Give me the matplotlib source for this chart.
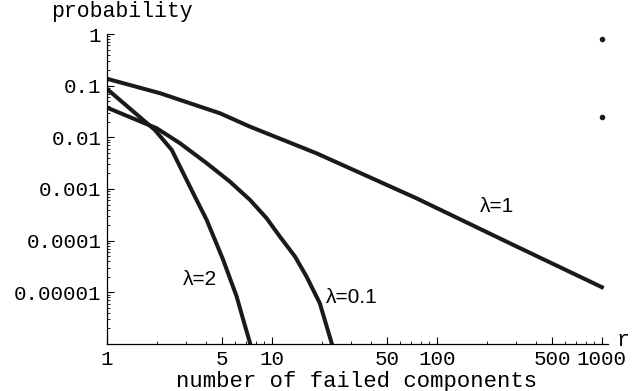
import numpy as np
import matplotlib.pyplot as plt
from matplotlib.ticker import FixedLocator, NullFormatter

# values (log-log)
r_lam1 = [1, 2.1, 4.84, 7.36, 18.6, 75, 290, 1000]
p_lam1 = [0.136, 0.0713, 0.0292, 0.0161, 0.00492, 6.64e-4, 8.3e-5, 1.26e-5]

r_lam2 = [1, 1.95, 2.47, 2.9, 3.41, 4.02, 4.51, 5.06, 5.56, 6.11, 6.7, 7.36, 8]
p_lam2 = [0.0863, 0.0139, 0.0057, 0.00202, 7.13e-4, 2.52e-4, 1.04e-4, 4.26e-5,
          1.88e-5, 8.3e-6, 2.94e-6, 1.05e-6, 3e-7]

r_lam01 = [1, 2.0, 2.77, 4.02, 5.56, 7.36, 9.28, 11.17, 13.8, 16.2, 19.5, 23.0, 25]
p_lam01 = [0.0376, 0.015, 0.00769, 0.00316, 0.00139, 6.15e-4, 2.72e-4, 1.2e-4,
           4.92e-5, 2.02e-5, 6.17e-6, 1.05e-6, 3e-7]

dots_r = [1000, 1000]
dots_p = [0.8, 0.025]

xticks = [1, 5, 10, 50, 100, 500, 1000]
yticks = [1, 0.1, 0.01, 0.001, 0.0001, 0.00001]
ytick_labels = ['1', '0.1', '0.01', '0.001', '0.0001', '0.00001']

mono = 'Liberation Mono'
sans = 'Liberation Sans'

fig = plt.figure(figsize=(6.34, 3.91), dpi=100)
ax = fig.add_axes([107/634, 47/391, 501/634, 310/391])

for r, p in [(r_lam1, p_lam1), (r_lam2, p_lam2), (r_lam01, p_lam01)]:
    ax.plot(r, p, color='#1a1a1a', lw=2.9, solid_joinstyle='round')
ax.plot(dots_r, dots_p, 'o', color='#1a1a1a', ms=3, clip_on=False)

ax.set_xscale('log')
ax.set_yscale('log')
ax.set_xlim(1, 1090)
ax.set_ylim(1e-6, 1)

ax.spines['top'].set_visible(False)
ax.spines['right'].set_visible(False)
for s in ['left', 'bottom']:
    ax.spines[s].set_linewidth(0.9)

ax.xaxis.set_major_locator(FixedLocator(xticks))
ax.set_xticklabels([str(v) for v in xticks], fontfamily=mono, fontsize=15)
minor_x = [v * d for d in [1, 10, 100] for v in range(2, 10) if v != 5]
ax.xaxis.set_minor_locator(FixedLocator(minor_x))
ax.xaxis.set_minor_formatter(NullFormatter())

ax.yaxis.set_major_locator(FixedLocator(yticks))
ax.set_yticklabels(ytick_labels, fontfamily=mono, fontsize=15)
minor_y = [v * 10.0**e for e in range(-6, 0) for v in range(2, 10)]
ax.yaxis.set_minor_locator(FixedLocator(minor_y))
ax.yaxis.set_minor_formatter(NullFormatter())

ax.tick_params(which='major', direction='in', length=5, width=0.8, pad=4)
ax.tick_params(which='minor', direction='in', length=2.5, width=0.6)

fig.text(122/634, 1 - 12/391, 'probability', fontfamily=mono, fontsize=15.5,
         ha='center', va='center')
fig.text(623/634, 1 - 341/391, 'r', fontfamily=mono, fontsize=15.5,
         ha='center', va='center')
fig.text(357/634, 1 - 381/391, 'number of failed components', fontfamily=mono,
         fontsize=16, ha='center', va='center')

ax.text(231, 4.5e-4, '\u03bb=1', fontsize=15, fontfamily=sans, ha='center', va='center')
ax.text(3.66, 1.8e-5, '\u03bb=2', fontsize=15, fontfamily=sans, ha='center', va='center')
ax.text(30.6, 7.8e-6, '\u03bb=0.1', fontsize=15, fontfamily=sans, ha='center', va='center')

fig.savefig('out.png', dpi=100)
